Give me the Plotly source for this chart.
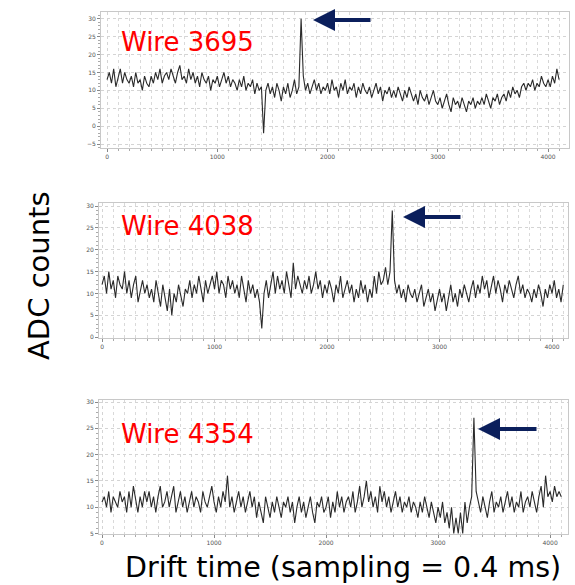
import plotly.graph_objects as go

# ---------------- data ----------------
sample_step = 20  # samples between plotted values
wire_labels = ["Wire 3695", "Wire 4038", "Wire 4354"]

adc_3695 = [
    13, 15, 12, 16, 11, 14, 16, 12, 15, 13,
    12, 14, 11, 15, 12, 13, 10, 14, 12, 11,
    14, 12, 15, 13, 16, 12, 14, 15, 13, 16,
    14, 12, 15, 17, 13, 14, 12, 16, 13, 15,
    12, 14, 11, 15, 13, 12, 14, 10, 13, 12,
    14, 11, 13, 15, 12, 14, 11, 13, 12, 10,
    13, 11, 14, 10, 12, 11, 13, 9, 12, 10,
    11, -2, 10, 12, 9, 11, 8, 12, 10, 7,
    11, 9, 12, 8, 10, 13, 9, 11, 30, 14,
    10, 12, 9, 11, 13, 10, 12, 9, 11, 10,
    12, 9, 13, 10, 11, 8, 12, 10, 13, 9,
    11, 10, 12, 8, 11, 9, 12, 10, 9, 11,
    8, 10, 12, 9, 11, 7, 10, 9, 11, 8,
    10, 8, 11, 9, 7, 10, 8, 11, 9, 7,
    9, 6, 10, 8, 7, 9, 6, 8, 10, 7,
    6, 8, 5, 7, 9, 6, 4, 8, 6, 7,
    5, 8, 6, 4, 7, 6, 8, 5, 7, 6,
    8, 6, 9, 7, 5, 8, 7, 9, 6, 8,
    9, 7, 10, 8, 11, 9, 10, 8, 11, 12,
    10, 12, 11, 13, 10, 12, 11, 14, 12, 11,
    13, 11, 14, 12, 16, 13,
]

adc_4038 = [
    12, 14, 10, 15, 11, 13, 9, 14, 12, 11,
    15, 10, 13, 9, 12, 14, 8, 11, 13, 10,
    12, 9, 11, 8, 13, 10, 7, 12, 9, 6,
    11, 5, 10, 8, 12, 9, 7, 11, 10, 13,
    9, 12, 10, 14, 11, 8, 13, 10, 12, 14,
    11, 15, 10, 13, 12, 9, 14, 11, 13, 10,
    12, 9, 14, 11, 8, 13, 10, 12, 9, 11,
    8, 2, 10, 13, 9, 12, 15, 10, 14, 11,
    13, 10, 15, 12, 9, 17, 11, 14, 12, 10,
    13, 11, 14, 10, 12, 15, 11, 13, 9, 12,
    10, 13, 11, 8, 12, 10, 14, 9, 11, 13,
    10, 12, 8, 11, 9, 13, 10, 12, 8, 11,
    9, 14, 10, 15, 12, 13, 16, 12, 15, 29,
    13, 10, 12, 9, 11, 8, 12, 10, 9, 11,
    8, 10, 12, 7, 9, 11, 8, 10, 6, 9,
    11, 8, 10, 6, 9, 12, 8, 10, 7, 11,
    9, 12, 10, 8, 11, 13, 9, 12, 10, 14,
    11, 13, 9, 12, 14, 10, 13, 11, 8, 12,
    10, 13, 11, 9, 12, 14, 10, 12, 9, 11,
    10, 8, 11, 9, 12, 10, 7, 11, 9, 12,
    10, 13, 9, 11, 8, 12,
]

adc_4354 = [
    11, 12, 10, 13, 9, 12, 11, 10, 13, 11,
    12, 9, 13, 10, 14, 11, 9, 12, 10, 13,
    11, 13, 10, 12, 9, 12, 14, 10, 11, 13,
    10, 12, 14, 9, 11, 13, 10, 12, 9, 11,
    13, 10, 12, 11, 9, 13, 11, 10, 12, 14,
    11, 9, 12, 10, 13, 11, 16, 10, 12, 9,
    11, 13, 10, 12, 9, 11, 13, 10, 12, 8,
    11, 9, 7, 12, 10, 8, 11, 9, 12, 10,
    8, 11, 10, 12, 9, 11, 7, 10, 12, 9,
    11, 8, 10, 12, 9, 7, 11, 10, 12, 9,
    10, 12, 8, 11, 9, 13, 10, 12, 9, 11,
    12, 10, 13, 9, 11, 14, 10, 12, 15, 11,
    13, 10, 12, 9, 14, 11, 13, 10, 12, 9,
    11, 13, 10, 12, 9, 11, 10, 12, 9, 11,
    10, 8, 11, 9, 12, 10, 8, 11, 9, 7,
    10, 8, 11, 7, 9, 6, 10, 5, 8, 5,
    9, 5, 11, 7, 10, 12, 27, 13, 11, 9,
    12, 10, 8, 11, 13, 9, 11, 10, 12, 9,
    11, 13, 10, 12, 9, 11, 10, 13, 9, 11,
    12, 10, 13, 11, 9, 12, 14, 10, 16, 12,
    13, 11, 14, 12, 13, 12,
]

x_tick_vals = [0, 1000, 2000, 3000, 4000]
y_tick_vals = [-5, 0, 5, 10, 15, 20, 25, 30]

series = [adc_3695, adc_4038, adc_4354]

# ---------------- layout geometry ----------------
W, H = 575, 585
def px(x):
    return x / W
def py(y):
    return 1 - y / H

panels = [
    dict(xdom=[px(101), px(569)], ydom=[py(148), py(12)], xr=[-55, 4190], yr=[-6.1, 31.9],
         label_xy=(119, 42), arrow=(313, 20, 372)),
    dict(xdom=[px(99), px(568)], ydom=[py(338), py(203)], xr=[-27, 4142], yr=[-0.2, 30.7],
         label_xy=(119, 226), arrow=(403, 217, 462)),
    dict(xdom=[px(99), px(568)], ydom=[py(534), py(400)], xr=[-27, 4160], yr=[4.9, 30.4],
         label_xy=(119, 434), arrow=(478, 429, 538)),
]

fig = go.Figure()
annotations = []
for i, (vals, p) in enumerate(zip(series, panels)):
    n = i + 1
    xs = [k * sample_step for k in range(len(vals))]
    fig.add_trace(go.Scatter(
        x=xs, y=vals, mode="lines",
        line=dict(color="#2a2a2a", width=1.1),
        xaxis=f"x{n}", yaxis=f"y{n}", showlegend=False, hoverinfo="skip",
    ))
    axis_common = dict(
        automargin=False,
        showline=True, mirror=True, linecolor="#c8c8c8", linewidth=1,
        showgrid=True, gridcolor="#d4d4d4", griddash="dot", gridwidth=1,
        zeroline=False, ticks="outside", ticklen=3, tickcolor="#888",
        tickfont=dict(family="DejaVu Sans", size=6, color="#555"),
    )
    fig.layout[f"xaxis{n}"] = dict(
        axis_common, domain=p["xdom"], range=p["xr"], anchor=f"y{n}",
        tickvals=x_tick_vals,
        minor=dict(dtick=100, tick0=0, showgrid=True, gridcolor="#d9d9d9",
                   griddash="dot", ticks="outside", ticklen=2, tickcolor="#aaa"),
    )
    fig.layout[f"yaxis{n}"] = dict(
        axis_common, domain=p["ydom"], range=p["yr"], anchor=f"x{n}",
        tickvals=y_tick_vals,
        minor=dict(dtick=1, ticks="outside", ticklen=2, tickcolor="#aaa"),
    )
    lx, ly = p["label_xy"]
    annotations.append(dict(
        text=wire_labels[i], xref="paper", yref="paper", x=px(lx), y=py(ly),
        xanchor="left", yanchor="middle", showarrow=False,
        font=dict(family="DejaVu Sans", size=26, color="#ff0000"),
    ))
    tx, ty, tailx = p["arrow"]
    annotations.append(dict(
        text="", xref="paper", yref="paper", x=px(tx), y=py(ty),
        ax=tailx - tx, ay=0, showarrow=True, arrowhead=2, arrowsize=1.1,
        arrowwidth=4, arrowcolor="#0b1f5c", standoff=0,
    ))

annotations.append(dict(
    text="ADC counts", xref="paper", yref="paper", x=px(39), y=py(276),
    textangle=-90, showarrow=False, xanchor="center", yanchor="middle",
    font=dict(family="DejaVu Sans", size=29, color="#000"),
))
annotations.append(dict(
    text="Drift time (sampling = 0.4 ms)", xref="paper", yref="paper",
    x=px(343), y=py(567), showarrow=False, xanchor="center", yanchor="middle",
    font=dict(family="DejaVu Sans", size=28.5, color="#000"),
))

fig.update_layout(
    width=W, height=H, margin=dict(l=0, r=0, t=0, b=0),
    paper_bgcolor="white", plot_bgcolor="white",
    annotations=annotations,
)

fig.write_html(
    "out.html",
    config={"displayModeBar": False},
    post_script="document.body.style.margin='0px';document.body.style.overflow='hidden';",
)
